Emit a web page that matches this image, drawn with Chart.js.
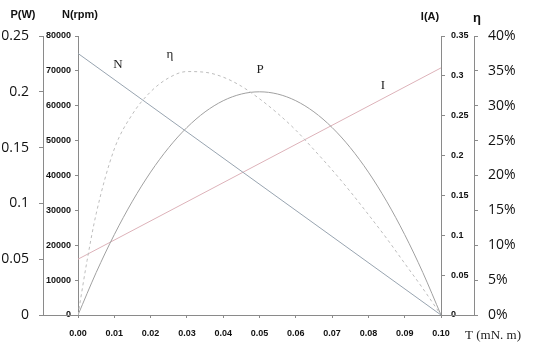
<!DOCTYPE html>
<html><head><meta charset="utf-8">
<script src="https://cdn.jsdelivr.net/npm/chart.js@4/dist/chart.umd.min.js"></script>
<style>html,body{margin:0;padding:0;background:#fff}canvas{display:block}</style>
</head><body>
<canvas id="c" width="542" height="356"></canvas>
<script>
// ---- data ----
const nTorque = [0, 0.1];
const speedRpm = [75000, 0];

const iTorque = [0, 0.1];
const currentA = [0.07, 0.31];

const pTorque = [0,0.005,0.01,0.015,0.02,0.025,0.03,0.035,0.04,0.045,0.05,0.055,0.06,0.065,0.07,0.075,0.08,0.085,0.09,0.095,0.1];
const powerW  = [0,0.038,0.072,0.102,0.128,0.150,0.168,0.182,0.192,0.198,0.200,0.198,0.192,0.182,0.168,0.150,0.128,0.102,0.072,0.038,0];

const etaTorque = [0,0.0025,0.005,0.01,0.015,0.02,0.025,0.03,0.035,0.04,0.045,0.05,0.055,0.06,0.065,0.07,0.075,0.08,0.085,0.09,0.095,0.1];
const efficiencyPct = [0,7.8,14.5,23.8,28.8,32.0,34.0,34.9,34.8,34.1,32.8,31.0,28.9,26.5,23.7,20.8,17.7,14.4,11.0,7.4,3.8,0];

const xTickStep = 0.01, pTickStep = 0.05, nTickStep = 10000, iTickStep = 0.05, etaTickStep = 5;

const pts = (xs, ys) => xs.map((x, i) => ({x, y: ys[i]}));
const fmt = v => String(Number(v.toFixed(3)));

const axisColor = '#8a8a8a';
const smallFont = {family: 'Liberation Sans', size: 9, weight: 'bold'};
const bigFont = {family: 'Open Sans', size: 14};

const decor = {
  id: 'decor',
  afterDraw(chart) {
    const {ctx, chartArea, scales} = chart;
    ctx.save();
    ctx.strokeStyle = axisColor; ctx.lineWidth = 1;
    const yb = Math.round(chartArea.bottom) + 0.5;
    const xp = Math.round(scales.yP.right) + 0.5;
    ctx.beginPath();
    ctx.moveTo(xp, Math.round(chartArea.top));
    ctx.lineTo(xp, yb);
    ctx.lineTo(scales.yEta.left, yb);
    ctx.stroke();
    ctx.fillStyle = '#111';
    ctx.font = 'bold 11px "Liberation Sans"';
    ctx.textAlign = 'center'; ctx.textBaseline = 'middle';
    ctx.fillText('P(W)', 23, 15);
    ctx.fillText('N(rpm)', 80, 15);
    ctx.fillText('I(A)', 430, 17);
    ctx.font = 'bold 13px "Liberation Sans"';
    ctx.fillText('η', 477, 18);
    ctx.font = '13px "Liberation Serif"';
    ctx.fillStyle = '#222';
    ctx.fillText('N', 118, 65);
    ctx.fillText('η', 170, 55);
    ctx.fillText('P', 260, 70);
    ctx.fillText('I', 383, 86);
    ctx.fillText('T (mN. m)', 493, 336);
    ctx.restore();
  }
};

new Chart(document.getElementById('c'), {
  type: 'line',
  data: {
    datasets: [
      {label: 'N', data: pts(nTorque, speedRpm), yAxisID: 'yN', borderColor: '#98a4b0', borderWidth: 1, pointRadius: 0},
      {label: 'η', data: pts(etaTorque, efficiencyPct), yAxisID: 'yEta', borderColor: '#bdbdbd', borderWidth: 1, borderDash: [3, 3], pointRadius: 0, cubicInterpolationMode: 'monotone'},
      {label: 'P', data: pts(pTorque, powerW), yAxisID: 'yP', borderColor: '#a0a0a0', borderWidth: 1, pointRadius: 0, cubicInterpolationMode: 'monotone'},
      {label: 'I', data: pts(iTorque, currentA), yAxisID: 'yI', borderColor: '#ddb2b9', borderWidth: 1, pointRadius: 0}
    ]
  },
  options: {
    responsive: false, animation: false, devicePixelRatio: 1,
    layout: {padding: {top: 36, left: 0, right: 0, bottom: 0}},
    plugins: {legend: {display: false}, tooltip: {enabled: false}},
    scales: {
      x: {
        type: 'linear', min: 0, max: 0.1,
        afterFit: s => { s.height = 41; },
        border: {color: axisColor},
        grid: {drawOnChartArea: false, tickLength: 3, color: axisColor},
        ticks: {stepSize: xTickStep, padding: 10, color: '#111', font: smallFont, maxRotation: 0,
          callback: v => Number(v).toFixed(2)}
      },
      yP: {
        position: 'left', weight: 2, min: 0, max: 0.25,
        afterFit: s => { s.width = 43; },
        border: {color: axisColor},
        grid: {drawOnChartArea: false, tickLength: 4, color: axisColor},
        ticks: {stepSize: pTickStep, padding: 10, color: '#111', font: bigFont, callback: v => fmt(v)}
      },
      yN: {
        position: 'left', weight: 1, min: 0, max: 80000,
        afterFit: s => { s.width = 35; },
        border: {color: axisColor},
        grid: {drawOnChartArea: false, tickLength: 3, color: axisColor},
        ticks: {stepSize: nTickStep, padding: 4, color: '#111', font: smallFont, callback: v => String(v)}
      },
      yI: {
        position: 'right', weight: 1, min: 0, max: 0.35,
        afterFit: s => { s.width = 33; },
        border: {color: axisColor},
        grid: {drawOnChartArea: false, tickLength: 4, color: axisColor},
        ticks: {stepSize: iTickStep, padding: 6, color: '#111', font: smallFont, callback: v => fmt(v)}
      },
      yEta: {
        position: 'right', weight: 2, min: 0, max: 40,
        afterFit: s => { s.width = 68; },
        border: {color: axisColor},
        grid: {drawOnChartArea: false, tickLength: 4, color: axisColor},
        ticks: {stepSize: etaTickStep, padding: 10, color: '#111', font: bigFont, callback: v => Math.round(v) + '%'}
      }
    }
  },
  plugins: [decor]
});
</script>
</body></html>
